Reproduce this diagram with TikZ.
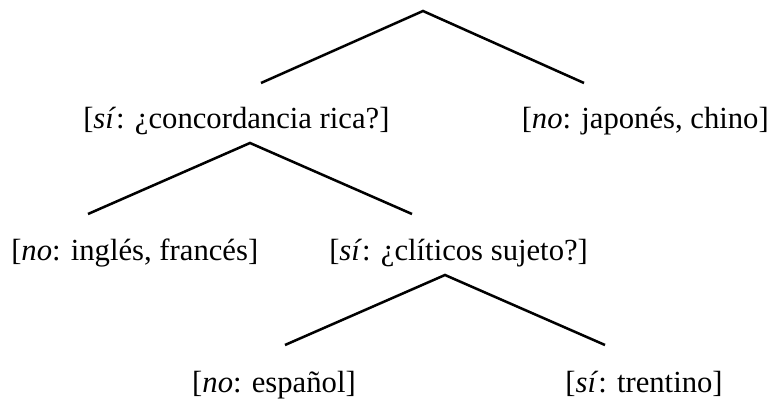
\documentclass[tikz,border=0pt]{standalone}
\usepackage{fontspec}
\setmainfont{Liberation Serif}
\begin{document}
\begin{tikzpicture}[x=0.75pt,y=-0.75pt,
    branch/.style={line width=1.9pt},
    label/.style={inner sep=0pt,font=\fontsize{23}{27}\selectfont}]
    \useasboundingbox (0,0) rectangle (771,403);
    % Top branch
    \coordinate (top) at (423,11);
    \coordinate (topl) at (261,83);
    \coordinate (topr) at (584,83);
    \draw[branch] (topl) -- (top) -- (topr);
    \node[label,anchor=base west] (rica) at (83,128) {[\textit{sí}: ¿concordancia rica?]};
    \node[label,anchor=base east] (japo) at (769,128) {[\textit{no}: japonés, chino]};
    % Middle branch
    \coordinate (mid) at (250,143);
    \coordinate (midl) at (88,214);
    \coordinate (midr) at (412,214);
    \draw[branch] (midl) -- (mid) -- (midr);
    \node[label,anchor=base west] (ingl) at (11,260) {[\textit{no}: inglés, francés]};
    \node[label,anchor=base west] (clit) at (329,260) {[\textit{sí}: ¿clíticos sujeto?]};
    % Bottom branch
    \coordinate (bot) at (445,275);
    \coordinate (botl) at (285,345);
    \coordinate (botr) at (605,345);
    \draw[branch] (botl) -- (bot) -- (botr);
    \node[label,anchor=base] (espa) at (274,392) {[\textit{no}: español]};
    \node[label,anchor=base] (tren) at (644,392) {[\textit{sí}: trentino]};
\end{tikzpicture}
\end{document}
